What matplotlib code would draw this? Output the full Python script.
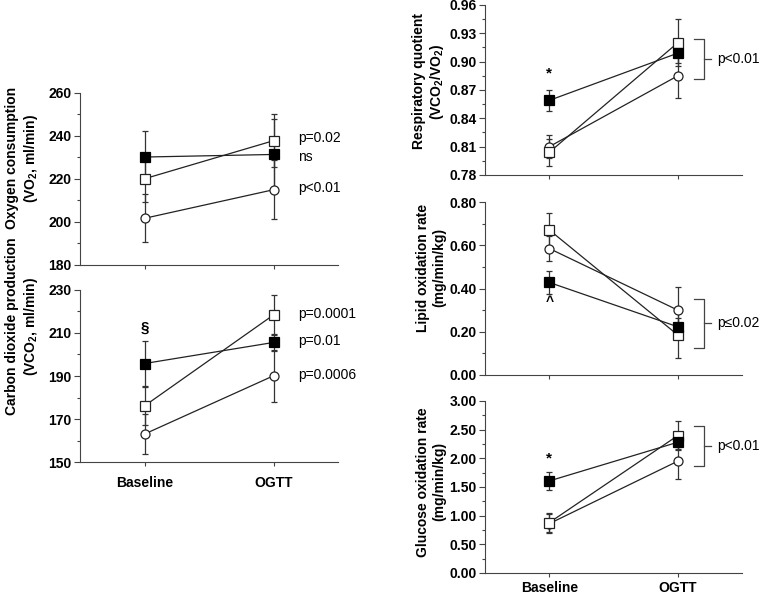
import numpy as np
import matplotlib
matplotlib.use('Agg')
import matplotlib.pyplot as plt
from matplotlib.ticker import MultipleLocator

plt.rcParams['font.family'] = ['Liberation Sans', 'DejaVu Sans']
plt.rcParams['mathtext.fontset'] = 'custom'
plt.rcParams['mathtext.rm'] = 'Liberation Sans:bold'
plt.rcParams['mathtext.it'] = 'Liberation Sans:bold'
plt.rcParams['mathtext.bf'] = 'Liberation Sans:bold'
plt.rcParams['mathtext.default'] = 'rm'

# Data (mean, error) per group: filled square, open square, open circle
x_labels = ['Baseline', 'OGTT']
x_pos = [1, 2]

vo2_filled = [230.2, 231.4]
vo2_filled_err = [12, 16.5]
vo2_open = [220.1, 237.8]
vo2_open_err = [11, 12.3]
vo2_circle = [201.7, 215.0]
vo2_circle_err = [11.2, 13.7]

vco2_filled = [195.8, 205.6]
vco2_filled_err = [10.5, 4]
vco2_open = [176.1, 218.4]
vco2_open_err = [9, 9.3]
vco2_circle = [163.0, 190.1]
vco2_circle_err = [9.2, 12]

rq_filled = [0.859, 0.909]
rq_filled_err = [0.011, 0.01]
rq_open = [0.804, 0.920]
rq_open_err = [0.014, 0.025]
rq_circle = [0.810, 0.885]
rq_circle_err = [0.012, 0.024]

lip_filled = [0.428, 0.223]
lip_filled_err = [0.052, 0.04]
lip_open = [0.671, 0.185]
lip_open_err = [0.078, 0.105]
lip_circle = [0.585, 0.300]
lip_circle_err = [0.06, 0.108]

glu_filled = [1.605, 2.28]
glu_filled_err = [0.15, 0.12]
glu_open = [0.878, 2.396]
glu_open_err = [0.17, 0.25]
glu_circle = [0.86, 1.95]
glu_circle_err = [0.16, 0.31]

SPINE = '#444444'


def draw_groups(ax, filled, filled_err, opn, opn_err, circ, circ_err):
    eb = dict(fmt='none', ecolor='#333333', elinewidth=0.9, capsize=2.2, capthick=0.9, zorder=2)
    ax.errorbar(x_pos, circ, yerr=circ_err, **eb)
    ax.errorbar(x_pos, opn, yerr=opn_err, **eb)
    ax.errorbar(x_pos, filled, yerr=filled_err, **eb)
    ax.plot(x_pos, circ, '-o', color='#222222', lw=0.9, ms=6.5, mfc='white', mec='#222222', mew=0.9, zorder=3)
    ax.plot(x_pos, opn, '-s', color='#222222', lw=0.9, ms=6.5, mfc='white', mec='#222222', mew=0.9, zorder=4)
    ax.plot(x_pos, filled, '-s', color='#222222', lw=0.9, ms=6.5, mfc='black', mec='black', mew=0.9, zorder=5)


def style_axis(ax, ylim, major, minor, fmt, ylabel, label_y, label_x, show_x, xpad=5):
    ax.set_xlim(0.5, 2.5)
    ax.set_ylim(*ylim)
    ticks = np.arange(ylim[0], ylim[1] + major / 2, major)
    ax.set_yticks(ticks)
    ax.set_yticklabels([fmt.format(v) for v in ticks], fontweight='bold')
    ax.yaxis.set_minor_locator(MultipleLocator(minor))
    ax.set_xticks(x_pos)
    if show_x:
        ax.set_xticklabels(x_labels, fontweight='bold', fontsize=10)
    else:
        ax.set_xticklabels([])
    ax.spines['top'].set_visible(False)
    ax.spines['right'].set_visible(False)
    ax.spines['left'].set_color(SPINE)
    ax.spines['bottom'].set_color(SPINE)
    ax.tick_params(axis='y', which='major', length=4, width=0.8, color=SPINE, labelsize=10, pad=2)
    ax.tick_params(axis='y', which='minor', length=2.5, width=0.8, color=SPINE)
    ax.tick_params(axis='x', length=3, width=0.8, color=SPINE, pad=xpad)
    ax.set_ylabel(ylabel, fontsize=10, fontweight='bold', linespacing=1.2)
    ax.yaxis.set_label_coords(label_x, label_y)


def bracket(ax, y_top, y_bot, text, x0=2.13, x1=2.205):
    ym = (y_top + y_bot) / 2
    ax.plot([x0, x1, x1, x0], [y_top, y_top, y_bot, y_bot], color='#444444', lw=0.9, clip_on=False)
    ax.plot([x1, x1 + 0.055], [ym, ym], color='#444444', lw=0.9, clip_on=False)
    ax.text(x1 + 0.1, ym, text, fontsize=10, va='center', ha='left', clip_on=False)


fig = plt.figure(figsize=(7.62, 5.94), dpi=100)

ax1 = fig.add_axes([0.105, 0.5539, 0.3386, 0.2896])
ax2 = fig.add_axes([0.105, 0.2222, 0.3386, 0.2896])
ax3 = fig.add_axes([0.6365, 0.7054, 0.3373, 0.2862])
ax4 = fig.add_axes([0.6365, 0.3687, 0.3373, 0.2912])
ax5 = fig.add_axes([0.6365, 0.0354, 0.3373, 0.2896])

# Oxygen consumption
draw_groups(ax1, vo2_filled, vo2_filled_err, vo2_open, vo2_open_err, vo2_circle, vo2_circle_err)
style_axis(ax1, (180, 260), 20, 10, '{:.0f}', 'Oxygen consumption\n(VO$_{2}$, ml/min)', 0.62, -0.155, False)
ax1.text(2.19, 239.0, 'p=0.02', fontsize=10, va='center')
ax1.text(2.19, 230.0, 'ns', fontsize=10, va='center')
ax1.text(2.19, 215.6, 'p<0.01', fontsize=10, va='center')

# Carbon dioxide production
draw_groups(ax2, vco2_filled, vco2_filled_err, vco2_open, vco2_open_err, vco2_circle, vco2_circle_err)
style_axis(ax2, (150, 230), 20, 10, '{:.0f}', 'Carbon dioxide production\n(VCO$_{2}$, ml/min)', 0.79, -0.155, True, xpad=7)
ax2.text(1, 212.5, '\u00a7', fontsize=11, fontweight='bold', ha='center', va='center')
ax2.text(2.19, 219.0, 'p=0.0001', fontsize=10, va='center')
ax2.text(2.19, 206.2, 'p=0.01', fontsize=10, va='center')
ax2.text(2.19, 190.6, 'p=0.0006', fontsize=10, va='center')

# Respiratory quotient
draw_groups(ax3, rq_filled, rq_filled_err, rq_open, rq_open_err, rq_circle, rq_circle_err)
style_axis(ax3, (0.78, 0.96), 0.03, 0.015, '{:.2f}', 'Respiratory quotient\n(VCO$_{2}$/VO$_{2}$)', 0.55, -0.15, False)
ax3.text(1, 0.887, '*', fontsize=11, fontweight='bold', ha='center', va='center')
bracket(ax3, 0.9236, 0.8813, 'p<0.01')

# Lipid oxidation
draw_groups(ax4, lip_filled, lip_filled_err, lip_open, lip_open_err, lip_circle, lip_circle_err)
style_axis(ax4, (0.0, 0.8), 0.2, 0.1, '{:.2f}', 'Lipid oxidation rate\n(mg/min/kg)', 0.62, -0.15, False)
ax4.text(1, 0.368, '^', fontsize=10, fontweight='bold', ha='center', va='top')
bracket(ax4, 0.351, 0.126, 'p\u22640.02')

# Glucose oxidation
draw_groups(ax5, glu_filled, glu_filled_err, glu_open, glu_open_err, glu_circle, glu_circle_err)
style_axis(ax5, (0.0, 3.0), 0.5, 0.25, '{:.2f}', 'Glucose oxidation rate\n(mg/min/kg)', 0.53, -0.15, True, xpad=3)
ax5.text(1, 2.0, '*', fontsize=11, fontweight='bold', ha='center', va='center')
bracket(ax5, 2.57, 1.86, 'p<0.01')

fig.savefig('out.png', dpi=100)
